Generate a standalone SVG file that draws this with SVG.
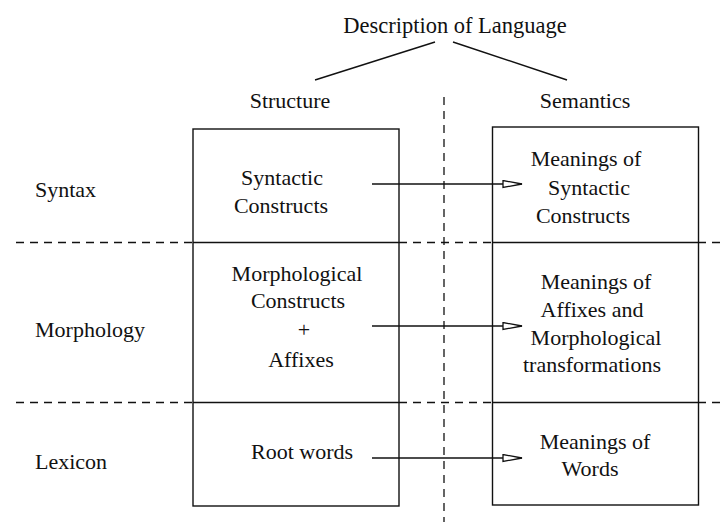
<svg xmlns="http://www.w3.org/2000/svg" width="721" height="523" viewBox="0 0 721 523">
  <style>
    text { font-family: "Liberation Serif", "Times New Roman", serif; font-size: 22px; fill: #111; }
    .c { text-anchor: middle; }
    .box { fill: none; stroke: #111; stroke-width: 1.4; }
    .dash { fill: none; stroke: #111; stroke-width: 1.3; stroke-dasharray: 8 6; }
    .line { fill: none; stroke: #111; stroke-width: 1.4; }
    .arrow { fill: none; stroke: #111; stroke-width: 1.4; marker-end: url(#open); }
  </style>
  <defs>
    <marker id="open" markerUnits="userSpaceOnUse" markerWidth="22" markerHeight="10" refX="20" refY="4.5" orient="auto">
      <path d="M1,1 L20,4.5 L1,8 Z" fill="#fff" stroke="#111" stroke-width="1.3"/>
    </marker>
  </defs>
  <rect width="721" height="523" fill="#fff"/>

  <g id="title">
    <text class="c" x="455" y="33" style="font-size:22.5px">Description of Language</text>
  </g>
  <g id="tree-lines">
    <line class="line" x1="315" y1="80" x2="435" y2="42"/>
    <line class="line" x1="453" y1="42" x2="567" y2="80"/>
  </g>
  <g id="headers">
    <text class="c" x="290" y="108">Structure</text>
    <text class="c" x="585" y="108">Semantics</text>
  </g>
  <g id="row-labels">
    <text x="35" y="197">Syntax</text>
    <text x="35" y="337">Morphology</text>
    <text x="35" y="469">Lexicon</text>
  </g>

  <g id="guides">
    <line class="dash" x1="444" y1="97" x2="444" y2="522"/>
    <line class="dash" x1="16" y1="242.5" x2="193" y2="242.5"/>
    <line class="dash" x1="399" y1="242.5" x2="492" y2="242.5"/>
    <line class="dash" x1="698" y1="242.5" x2="721" y2="242.5"/>
    <line class="dash" x1="16" y1="402.5" x2="193" y2="402.5"/>
    <line class="dash" x1="399" y1="402.5" x2="492" y2="402.5"/>
    <line class="dash" x1="698" y1="402.5" x2="721" y2="402.5"/>
  </g>

  <g id="structure-box">
    <rect class="box" x="193" y="129" width="206" height="377"/>
    <line class="box" x1="193" y1="242.5" x2="399" y2="242.5"/>
    <line class="box" x1="193" y1="402.5" x2="399" y2="402.5"/>
  </g>
  <g id="semantics-box">
    <rect class="box" x="492.5" y="127" width="206" height="378"/>
    <line class="box" x1="492.5" y1="242.5" x2="698.5" y2="242.5"/>
    <line class="box" x1="492.5" y1="402.5" x2="698.5" y2="402.5"/>
  </g>

  <g id="syntactic-constructs">
    <text class="c" x="282" y="185">Syntactic</text>
    <text class="c" x="281" y="213">Constructs</text>
  </g>
  <g id="morphological-constructs">
    <text class="c" x="297" y="281">Morphological</text>
    <text class="c" x="298" y="308">Constructs</text>
    <text class="c" x="304" y="337">+</text>
    <text class="c" x="301" y="367">Affixes</text>
  </g>
  <g id="root-words">
    <text class="c" x="302" y="459">Root words</text>
  </g>

  <g id="meanings-syntactic">
    <text class="c" x="586" y="166">Meanings of</text>
    <text class="c" x="589" y="195">Syntactic</text>
    <text class="c" x="583" y="223">Constructs</text>
  </g>
  <g id="meanings-affixes">
    <text class="c" x="596" y="289">Meanings of</text>
    <text class="c" x="592" y="317">Affixes and</text>
    <text class="c" x="596" y="345">Morphological</text>
    <text class="c" x="592" y="372">transformations</text>
  </g>
  <g id="meanings-words">
    <text class="c" x="595" y="449">Meanings of</text>
    <text class="c" x="590" y="476">Words</text>
  </g>

  <g id="connectors">
    <line class="arrow" x1="372" y1="184" x2="522" y2="184"/>
    <line class="arrow" x1="372" y1="326" x2="522" y2="326"/>
    <line class="arrow" x1="372" y1="458" x2="522" y2="458"/>
  </g>
</svg>
